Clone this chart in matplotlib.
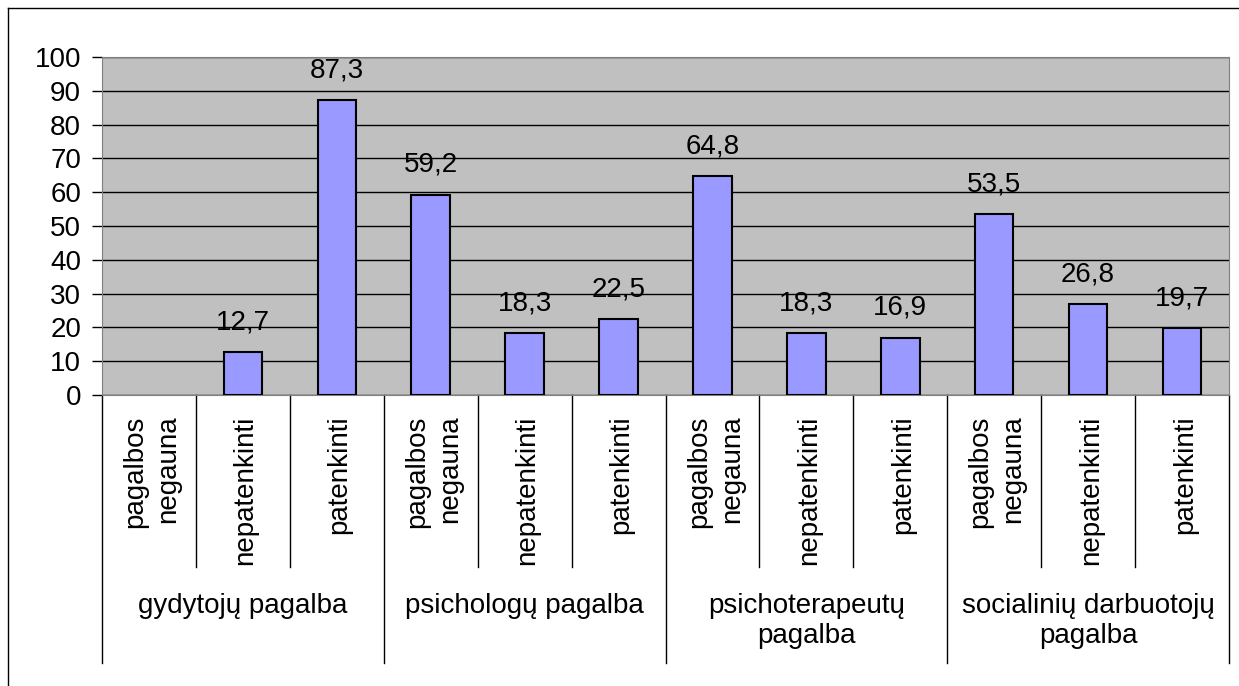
import matplotlib.pyplot as plt
from matplotlib.lines import Line2D
import numpy as np

plt.rcParams['font.family'] = ['Liberation Sans', 'DejaVu Sans']

groups = ["gydytojų pagalba", "psichologų pagalba", "psichoterapeutų\npagalba",
          "socialinių darbuotojų\npagalba"]
subcats = ["pagalbos\nnegauna", "nepatenkinti", "patenkinti"]
values = [0, 12.7, 87.3,
          59.2, 18.3, 22.5,
          64.8, 18.3, 16.9,
          53.5, 26.8, 19.7]

fs = 20

fig = plt.figure(figsize=(12.39, 6.86), dpi=100)
ax = fig.add_axes([102 / 1239, 1 - 395 / 686, 1127 / 1239, 338 / 686])

n = len(values)
x = np.arange(n)
edges = ['black' if v > 0 else 'none' for v in values]
ax.bar(x, values, width=0.41, color='#9999FF', edgecolor=edges, linewidth=1.5, zorder=3)
for xi, v in zip(x, values):
    if v > 0:
        ax.annotate(f"{v:.1f}".replace('.', ','), (xi, v), xytext=(0, 16.5),
                    textcoords='offset points', ha='center', va='baseline', fontsize=fs)

ax.set_xlim(-0.5, n - 0.5)
ax.set_ylim(0, 100)
ax.set_yticks(range(0, 101, 10))
ax.set_facecolor('#C0C0C0')
ax.grid(axis='y', color='black', linewidth=1)
ax.set_axisbelow(True)
ax.tick_params(axis='y', labelsize=fs, length=7, width=1, direction='out', pad=8)
ax.set_xticks([])
for s in ax.spines.values():
    s.set_color('#808080')

tr = ax.get_xaxis_transform()
# separators under the axis
for i in range(n + 1):
    xb = i - 0.5
    low = -0.793 if i % 3 == 0 else -0.509
    ax.plot([xb, xb], [0, low], color='black', linewidth=1, transform=tr, clip_on=False)

for xi, lab in zip(x, subcats * len(groups)):
    ax.text(xi + 0.03, -0.06, lab, rotation=90, ha='center', va='top', multialignment='right',
            fontsize=fs, transform=tr, linespacing=1.35)

for gi, g in enumerate(groups):
    ax.text(gi * 3 + 1, -0.585, g, ha='center', va='top', fontsize=fs, transform=tr,
            linespacing=1.2)

fig.add_artist(Line2D([8 / 1239, 8 / 1239], [0, 1 - 8 / 686], color='black', linewidth=1))
fig.add_artist(Line2D([8 / 1239, 1], [1 - 8 / 686, 1 - 8 / 686], color='black', linewidth=1))

fig.savefig('out.png', dpi=100)
